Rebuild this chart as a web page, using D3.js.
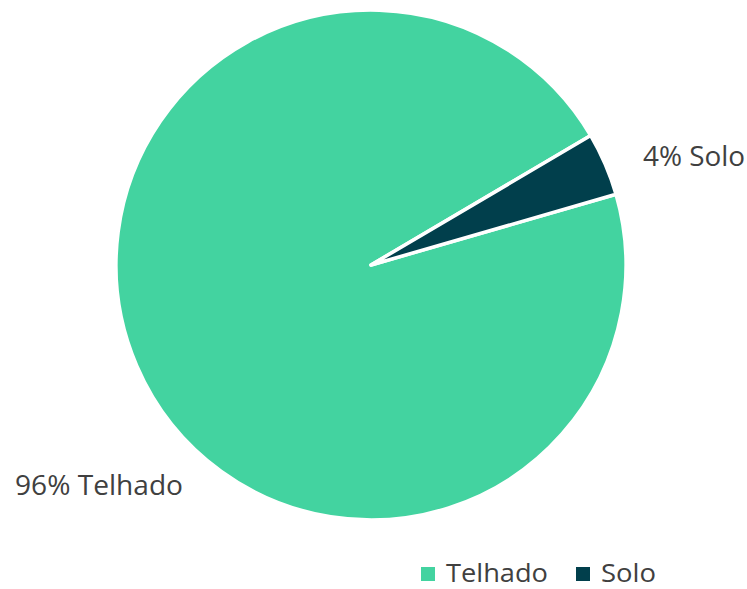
<!DOCTYPE html>
<html><head><meta charset="utf-8">
<script src="https://cdn.jsdelivr.net/npm/d3@7"></script>
<style>body{margin:0;background:#fff;} text{font-family:"Open Sans",sans-serif;fill:#404040;}</style>
</head><body>
<svg id="c" width="747" height="589"></svg>
<script>
const categories = ["Telhado", "Solo"];
const values = [96, 4];
const labels = ["96% Telhado", "4% Solo"];
const colors = ["#43D3A0", "#013F4C"];

const svg = d3.select("#c");
const cx = 371, cy = 265, r = 255;
const start = (73.9) * Math.PI / 180;
const pie = d3.pie().sort(null).value(d => d).startAngle(start).endAngle(start + 2 * Math.PI);
const arcs = pie(values);
const arc = d3.arc().innerRadius(0).outerRadius(r);
const g = svg.append("g").attr("transform", `translate(${cx},${cy})`);
g.selectAll("path").data(arcs).enter().append("path")
  .attr("d", arc).attr("fill", (d, i) => colors[i])
  .attr("stroke", "#fff").attr("stroke-width", 3.5).attr("stroke-linejoin", "round");

// data labels
const labelPos = [[15, 495, "start"], [643, 166, "start"]];
labels.forEach((t, i) => {
  svg.append("text").attr("x", labelPos[i][0]).attr("y", labelPos[i][1])
    .attr("text-anchor", labelPos[i][2]).attr("font-size", 28).attr("textLength", i === 0 ? 168 : 102)
    .attr("lengthAdjust", "spacingAndGlyphs").text(t);
});

// legend
const legend = svg.append("g");
const lx = [421, 576];
const lw = [102, 55];
categories.forEach((c, i) => {
  legend.append("rect").attr("x", lx[i]).attr("y", 567).attr("width", 14).attr("height", 14).attr("fill", colors[i]);
  legend.append("text").attr("x", lx[i] + 25).attr("y", 582).attr("font-size", 26)
    .attr("textLength", lw[i]).attr("lengthAdjust", "spacingAndGlyphs").text(c);
});
</script>
</body></html>
